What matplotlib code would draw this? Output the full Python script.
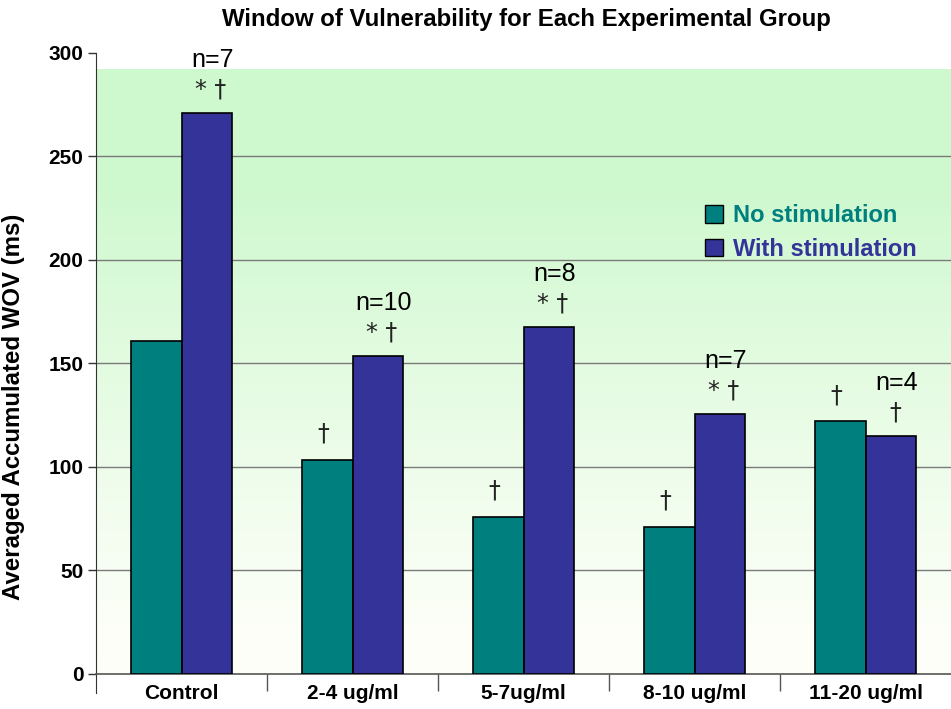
import numpy as np
import matplotlib
matplotlib.use("Agg")
import matplotlib.pyplot as plt
from matplotlib.patches import Patch

plt.rcParams['font.family'] = ['Liberation Sans', 'DejaVu Sans']

categories = ['Control', '2-4 ug/ml', '5-7ug/ml', '8-10 ug/ml', '11-20 ug/ml']
no_stim = [161, 103.5, 76, 71, 122]
with_stim = [271, 153.5, 167.5, 125.5, 115]
n_labels = ['n=7', 'n=10', 'n=8', 'n=7', 'n=4']
stim_marks = ['* \u2020', '* \u2020', '* \u2020', '* \u2020', '\u2020']
nostim_marks = ['', '\u2020', '\u2020', '\u2020', '\u2020']
series_names = ['No stimulation', 'With stimulation']
yticks = [0, 50, 100, 150, 200, 250, 300]

teal = '#007f7f'
blue = '#333399'

fig = plt.figure(figsize=(9.51, 7.09), dpi=100)
ax = fig.add_axes([0.101, 0.0494, 0.899, 0.876])

x = np.arange(len(categories))
w = 0.295
ax.set_xlim(-0.5, 4.5)
ax.set_ylim(0, 300)

# gradient background (light green at top fading to white)
top_val = 292
vals = np.linspace(0, top_val, 300)
t = np.clip(vals / 235.0, 0, 1) ** 1.2
c_top = np.array([0.81, 0.975, 0.81])
c_bot = np.array([1.0, 1.0, 0.98])
img = c_bot[None, :] + (c_top - c_bot)[None, :] * t[:, None]
img = img.reshape(-1, 1, 3)
ax.imshow(img, extent=[-0.5, 4.5, 0, top_val], origin='lower', aspect='auto', zorder=0)

for yv in yticks[1:-1]:
    ax.axhline(yv, color='#7a7a7a', lw=1.0, zorder=1)

ax.bar(x - w / 2, no_stim, w, color=teal, edgecolor='black', lw=1.2, zorder=3)
ax.bar(x + w / 2, with_stim, w, color=blue, edgecolor='black', lw=1.2, zorder=3)

for i in range(len(categories)):
    xb = x[i] + w / 2
    ax.annotate(stim_marks[i], (xb, with_stim[i]), xytext=(3, 17), textcoords='offset points',
                ha='center', va='center', fontsize=17, family=['DejaVu Sans'], color='#222222', zorder=4)
    ax.annotate(n_labels[i], (xb, with_stim[i]), xytext=(4, 38), textcoords='offset points',
                ha='center', va='center', fontsize=18, color='black', zorder=4)
    if nostim_marks[i]:
        ax.annotate(nostim_marks[i], (x[i] - w / 2, no_stim[i]), xytext=(-3, 19), textcoords='offset points',
                    ha='center', va='center', fontsize=17, family=['DejaVu Sans'], color='#222222', zorder=4)

# spines
for s in ['top', 'right']:
    ax.spines[s].set_visible(False)
ax.spines['left'].set_bounds(-9, 300)
ax.spines['left'].set_color('#333333')
ax.spines['bottom'].set_color('#555555')
ax.spines['bottom'].set_linewidth(1.2)

ax.set_yticks(yticks)
ax.set_yticklabels([str(v) for v in yticks], fontsize=15, fontweight='bold')
ax.tick_params(axis='y', direction='out', length=6, width=1, pad=3, color='#333333')

ax.set_xticks(x)
ax.set_xticklabels(categories, fontsize=15, fontweight='bold')
ax.set_xticks(np.arange(0.5, 4.5, 1.0), minor=True)
ax.tick_params(axis='x', which='major', length=0, pad=7)
ax.tick_params(axis='x', which='minor', direction='out', length=12, width=1, color='#555555')

ax.set_ylabel('Averaged Accumulated WOV (ms)', fontsize=17.3, fontweight='bold')
ax.yaxis.set_label_coords(-0.083, 0.43)

fig.text(0.554, 0.972, 'Window of Vulnerability for Each Experimental Group',
         ha='center', va='center', fontsize=17.3, fontweight='bold')

handles = [Patch(facecolor=teal, edgecolor='black'), Patch(facecolor=blue, edgecolor='black')]
leg = ax.legend(handles, series_names, loc='upper left', bbox_to_anchor=(0.719, 0.742),
                bbox_transform=fig.transFigure, frameon=False, handlelength=0.75, handleheight=0.75,
                handletextpad=0.45, labelspacing=0.45, prop={'size': 17, 'weight': 'bold'})
for t_, c in zip(leg.get_texts(), [teal, blue]):
    t_.set_color(c)

fig.savefig('out.png', dpi=100)
